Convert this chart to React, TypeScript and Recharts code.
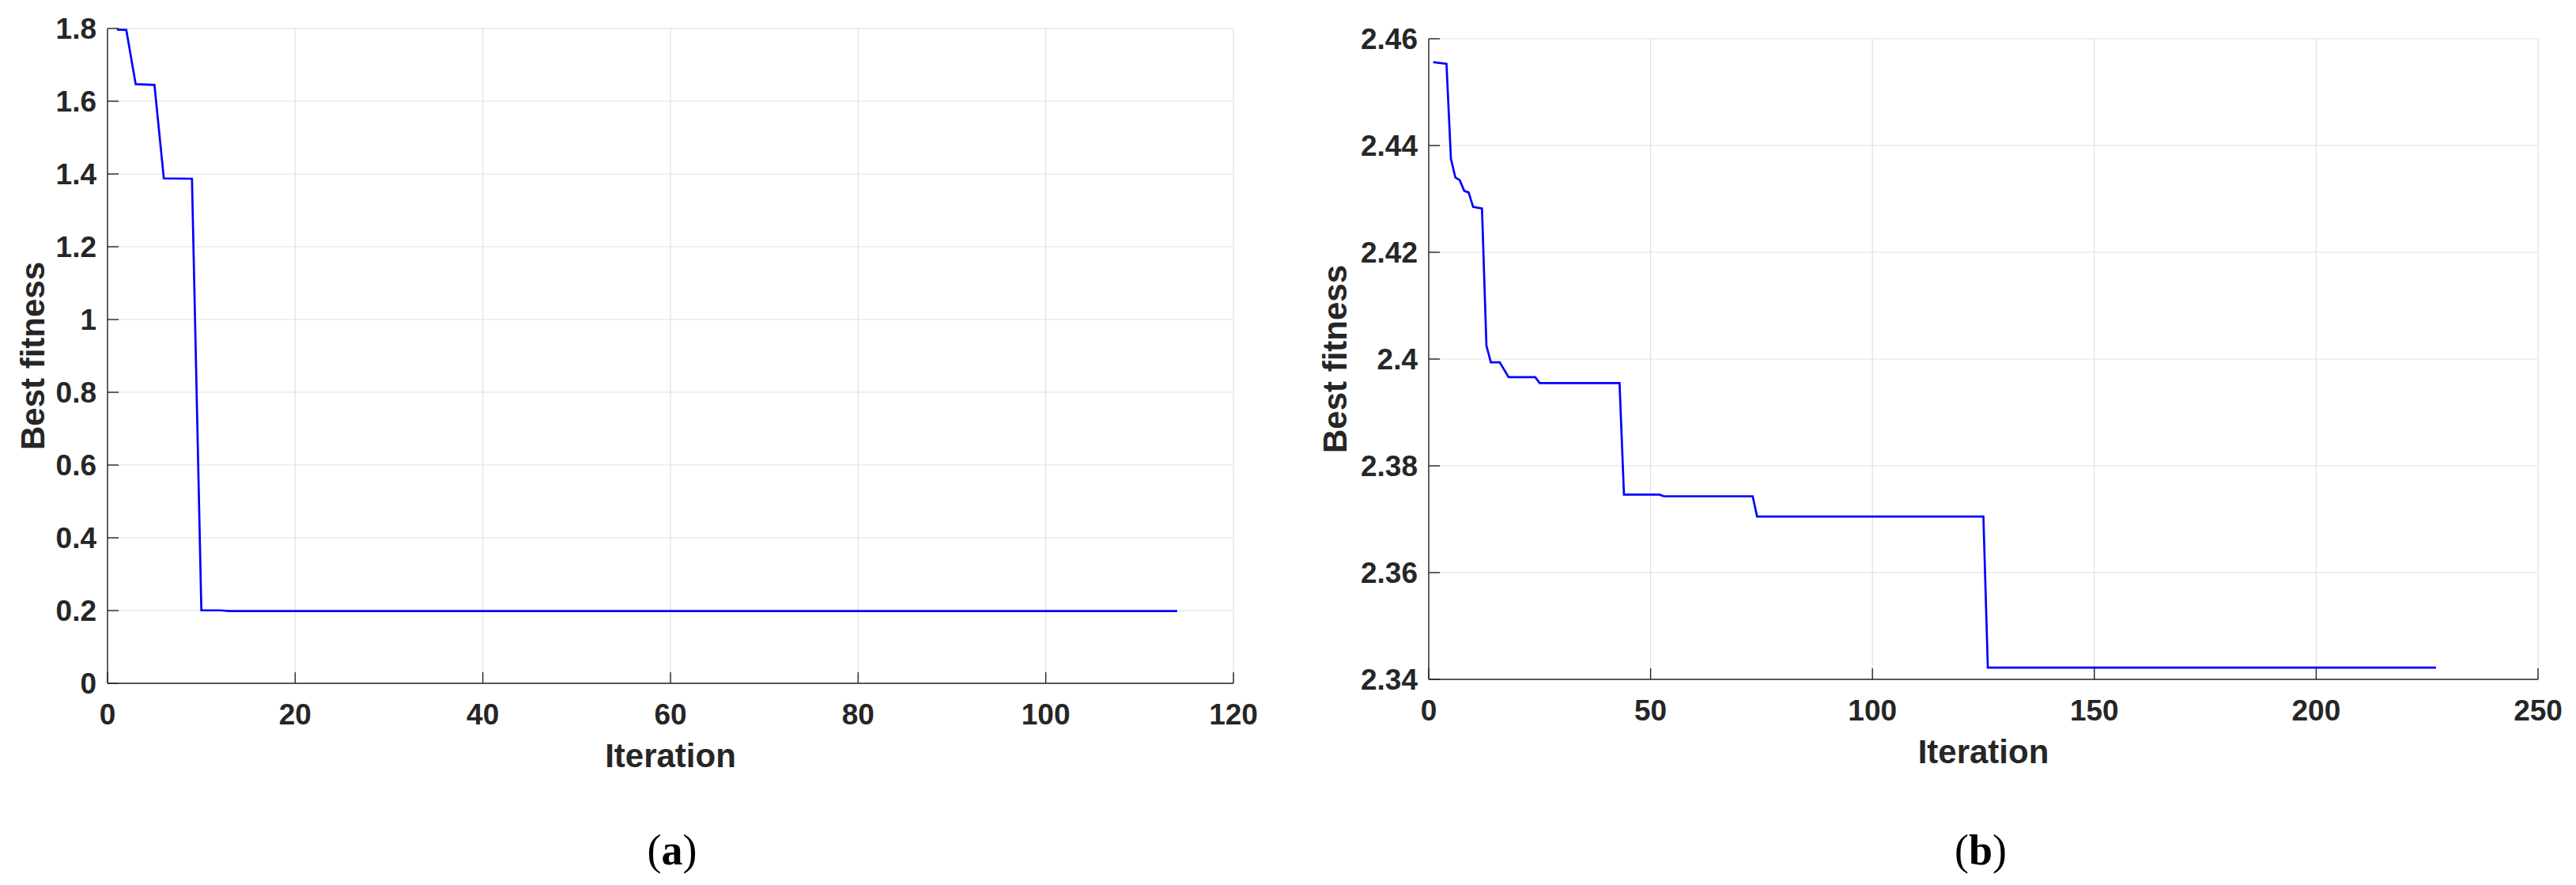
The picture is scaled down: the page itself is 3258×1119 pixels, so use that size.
import React from 'react';
import { LineChart, Line, XAxis, YAxis, CartesianGrid } from 'recharts';

// ---- data ----
const leftIteration = [1, 2, 3, 5, 6, 9, 10, 12, 13, 114];
const leftFitness = [1.797, 1.796, 1.647, 1.645, 1.388, 1.387, 0.201, 0.2005, 0.1985, 0.1985];
const leftXTicks = [0, 20, 40, 60, 80, 100, 120];
const leftYTicks = [0, 0.2, 0.4, 0.6, 0.8, 1, 1.2, 1.4, 1.6, 1.8];

const rightIteration = [1, 4, 5, 6, 7, 8, 9, 10, 12, 13, 14, 16, 18, 24, 25, 43, 44, 52, 53, 73, 74, 125, 126, 227];
const rightFitness = [
  2.4556, 2.4553, 2.4375, 2.434, 2.4335, 2.4315, 2.4312, 2.4285, 2.4282, 2.4025, 2.3994, 2.3994,
  2.3966, 2.3966, 2.3955, 2.3955, 2.3746, 2.3746, 2.3743, 2.3743, 2.3705, 2.3705, 2.3422, 2.3422,
];
const rightXTicks = [0, 50, 100, 150, 200, 250];
const rightYTicks = [2.34, 2.36, 2.38, 2.4, 2.42, 2.44, 2.46];

const xTitle = 'Iteration';
const yTitle = 'Best fitness';
const captionLetters = ['a', 'b'];

const AXIS = '#262626';
const GRID = '#e0e0e0';
const FONT = '"Liberation Sans", Arial, Helvetica, sans-serif';

const fmt = (v: number) => String(Number(v.toFixed(2)));

type PanelProps = {
  iters: number[];
  values: number[];
  xTicks: number[];
  yTicks: number[];
  width: number;
  height: number;
  margin: { top: number; right: number; bottom: number; left: number };
  yAxisWidth: number;
  yLabelDx: number;
};

function Panel(p: PanelProps) {
  const data = p.iters.map((it, i) => ({ iter: it, fit: p.values[i] }));
  const xDomain: [number, number] = [p.xTicks[0], p.xTicks[p.xTicks.length - 1]];
  const yDomain: [number, number] = [p.yTicks[0], p.yTicks[p.yTicks.length - 1]];
  const tickStyle = { fill: AXIS, fontSize: 37, fontWeight: 700, fontFamily: FONT };
  const axisLine = { stroke: AXIS, strokeWidth: 1.4 };
  const tickLine = { stroke: AXIS, strokeWidth: 1.4 };
  return (
    <LineChart width={p.width} height={p.height} data={data} margin={p.margin}>
      <CartesianGrid stroke={GRID} strokeWidth={1.2} />
      <XAxis
        dataKey="iter"
        type="number"
        domain={xDomain}
        ticks={p.xTicks}
        interval={0}
        height={100}
        tickSize={-14}
        tickMargin={40}
        tickFormatter={fmt}
        tick={tickStyle}
        axisLine={axisLine}
        tickLine={tickLine}
        label={{
          value: xTitle,
          position: 'bottom',
          offset: -24,
          style: { fill: AXIS, fontSize: 42, fontWeight: 700, fontFamily: FONT },
        }}
      />
      <XAxis
        xAxisId="top"
        orientation="top"
        dataKey="iter"
        type="number"
        domain={xDomain}
        ticks={p.xTicks}
        interval={0}
        height={0}
        tickSize={-14}
        tick={false}
        axisLine={axisLine}
        tickLine={tickLine}
      />
      <YAxis
        type="number"
        domain={yDomain}
        ticks={p.yTicks}
        interval={0}
        width={p.yAxisWidth}
        tickSize={-14}
        tickMargin={28}
        tickFormatter={fmt}
        tick={tickStyle}
        axisLine={axisLine}
        tickLine={tickLine}
        label={{
          value: yTitle,
          position: 'center',
          angle: -90,
          dx: p.yLabelDx,
          style: { fill: AXIS, fontSize: 42, fontWeight: 700, fontFamily: FONT },
        }}
      />
      <YAxis
        yAxisId="right"
        orientation="right"
        type="number"
        domain={yDomain}
        ticks={p.yTicks}
        interval={0}
        width={0}
        tickSize={-14}
        tick={false}
        axisLine={axisLine}
        tickLine={tickLine}
      />
      <Line
        dataKey="fit"
        type="linear"
        stroke="#0000ff"
        strokeWidth={2.7}
        dot={false}
        activeDot={false}
        isAnimationActive={false}
      />
    </LineChart>
  );
}

function Caption({ letter, cx }: { letter: string; cx: number }) {
  return (
    <text
      x={cx}
      y={1093}
      textAnchor="middle"
      fontFamily='"Liberation Serif", "Times New Roman", serif'
      fontSize={54}
      fill="#000"
    >
      (<tspan fontWeight={700}>{letter}</tspan>)
    </text>
  );
}

export default function App() {
  return (
    <div style={{ position: 'absolute', left: 0, top: 0, width: 3258, height: 1119, background: '#fff', overflow: 'hidden' }}>
      <div style={{ position: 'absolute', left: 0, top: 0 }}>
        <Panel
          iters={leftIteration}
          values={leftFitness}
          xTicks={leftXTicks}
          yTicks={leftYTicks}
          width={1600}
          height={1000}
          margin={{ top: 36, right: 40, bottom: 36, left: 0 }}
          yAxisWidth={136}
          yLabelDx={-27}
        />
      </div>
      <div style={{ position: 'absolute', left: 1640, top: 0 }}>
        <Panel
          iters={rightIteration}
          values={rightFitness}
          xTicks={rightXTicks}
          yTicks={rightYTicks}
          width={1618}
          height={1000}
          margin={{ top: 49, right: 48, bottom: 41, left: 0 }}
          yAxisWidth={167}
          yLabelDx={-35}
        />
      </div>
      <svg style={{ position: 'absolute', left: 0, top: 0 }} width={3258} height={1119}>
        <Caption letter={captionLetters[0]} cx={850} />
        <Caption letter={captionLetters[1]} cx={2505} />
      </svg>
    </div>
  );
}
